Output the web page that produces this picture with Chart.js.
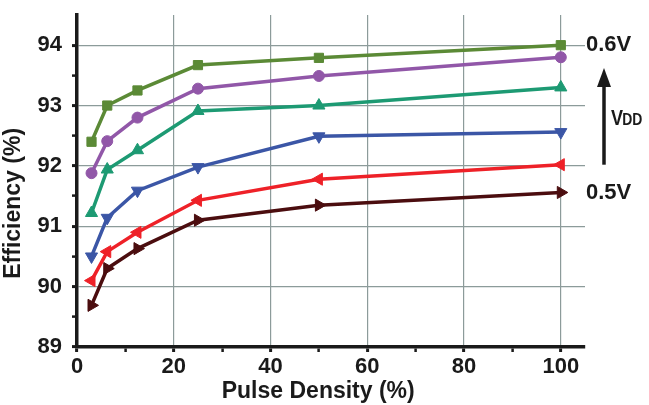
<!DOCTYPE html>
<html>
<head>
<meta charset="utf-8">
<script src="https://cdn.jsdelivr.net/npm/chart.js@4"></script>
<style>
	html, body { margin: 0; padding: 0; background: #fff; }
	#wrap { width: 649px; height: 405px; }
</style>
</head>
<body>
<div id="wrap"><canvas id="chart" width="649" height="405"></canvas></div>
<script>
// pulse density (%) on x, efficiency (%) per supply voltage, 0.6V at top down to 0.5V
const pulseDensity = [3, 6.25, 12.5, 25, 50, 100];
const eff060 = [92.40, 93.00, 93.25, 93.67, 93.79, 94.00];
const eff058 = [91.88, 92.41, 92.80, 93.28, 93.49, 93.80];
const eff056 = [91.22, 91.94, 92.26, 92.91, 93.00, 93.30];
const eff054 = [90.50, 91.14, 91.59, 91.98, 92.49, 92.56];
const eff052 = [90.10, 90.58, 90.90, 91.43, 91.78, 92.02];
const eff050 = [89.69, 90.30, 90.63, 91.10, 91.35, 91.56];
const xTicks = [0, 10, 20, 30, 40, 50, 60, 70, 80, 90, 100];
const yTicks = [89, 89.5, 90, 90.5, 91, 91.5, 92, 92.5, 93, 93.5, 94];
const vddLabels = ['0.6V', '0.5V'];

const FONT = '"Liberation Sans", Arial, sans-serif';
const INK = '#1a1a1a';
const GRID = '#8c9b9a';
const NONE = 'rgba(0,0,0,0)';
const PAD = '\u00a0';

function series(values, color, style, rotation, radius){
	return {
		data: values.map((v, i) => ({x: pulseDensity[i], y: v})),
		borderColor: color,
		backgroundColor: color,
		borderWidth: 3.5,
		pointStyle: style,
		pointRotation: rotation,
		pointRadius: radius,
		pointBorderWidth: 1,
		tension: 0
	};
}

const datasets = [
	series(eff060, '#5b8a36', 'rect', 0, 6.5),
	series(eff058, '#9157a8', 'circle', 0, 5.5),
	series(eff056, '#1d9a73', 'triangle', 0, 7),
	series(eff054, '#3b56a6', 'triangle', 180, 7),
	series(eff052, '#ee2128', 'triangle', 270, 7),
	series(eff050, '#4b0d0f', 'triangle', 90, 7)
];

// right side labels: 0.6V, VDD arrow, 0.5V
const sideLabels = {
	id: 'sideLabels',
	afterDraw(chart){
		const ctx = chart.ctx;
		const y = chart.scales.y;
		const area = chart.chartArea;
		const top = eff060[eff060.length - 1];
		const bottom = eff050[eff050.length - 1];
		ctx.save();
		ctx.fillStyle = INK;
		ctx.textBaseline = 'middle';
		ctx.textAlign = 'left';
		ctx.font = 'bold 22px ' + FONT;
		ctx.fillText(vddLabels[0], area.right + 1, y.getPixelForValue(top));
		ctx.fillText(vddLabels[1], area.right + 1, y.getPixelForValue(bottom));

		// arrow
		const ax = area.right + 19;
		const y0 = y.getPixelForValue(92.02);
		const y1 = y.getPixelForValue(93.62);
		ctx.strokeStyle = INK;
		ctx.lineWidth = 3.5;
		ctx.beginPath();
		ctx.moveTo(ax, y0);
		ctx.lineTo(ax, y1 + 12);
		ctx.stroke();
		ctx.beginPath();
		ctx.moveTo(ax, y1);
		ctx.lineTo(ax - 7, y1 + 19);
		ctx.lineTo(ax + 7, y1 + 19);
		ctx.closePath();
		ctx.fill();

		// VDD, squeezed like the condensed original
		const vy = y.getPixelForValue(92.78);
		ctx.translate(area.right + 26, vy);
		ctx.scale(0.82, 1);
		ctx.font = 'bold 22px ' + FONT;
		ctx.fillText('V', 0, 0);
		const w = ctx.measureText('V').width;
		ctx.font = 'bold 17px ' + FONT;
		ctx.fillText('DD', w - 1, 1.5);
		ctx.restore();
	}
};

new Chart(document.getElementById('chart'), {
	type: 'line',
	data: {datasets: datasets},
	plugins: [sideLabels],
	options: {
		responsive: false,
		animation: false,
		layout: {padding: {top: 15, right: 64, left: 0, bottom: 0}},
		plugins: {
			legend: {display: false},
			tooltip: {enabled: false}
		},
		scales: {
			x: {
				type: 'linear',
				min: 0,
				max: 105,
				afterFit: (scale) => {
					scale.height = 58;
					scale.paddingLeft = 0;
					scale.paddingRight = 0;
				},
				afterBuildTicks: (scale) => { scale.ticks = xTicks.map((v) => ({value: v})); },
				border: {display: true, color: INK, width: 3.5},
				grid: {
					color: (c) => (c.tick && c.tick.value > 0 && c.tick.value % 20 === 0) ? GRID : NONE,
					lineWidth: 1.2,
					drawTicks: true,
					tickLength: 5,
					tickColor: INK,
					tickWidth: (c) => (c.tick && c.tick.value % 20 === 0) ? 3 : 2.5
				},
				ticks: {
					autoSkip: false,
					maxRotation: 0,
					padding: 2,
					color: INK,
					font: {family: FONT, size: 22, weight: 'bold'},
					callback: (v) => (v % 20 === 0) ? String(v) : ''
				},
				title: {
					display: true,
					text: 'Pulse Density (%)' + PAD.repeat(4),
					color: INK,
					padding: {top: 0, bottom: 0},
					font: {family: FONT, size: 23, weight: 'bold'}
				}
			},
			y: {
				min: 89,
				max: 94.5,
				afterFit: (scale) => {
					scale.width = 77;
					scale.paddingTop = 0;
					scale.paddingBottom = 0;
				},
				afterBuildTicks: (scale) => { scale.ticks = yTicks.map((v) => ({value: v})); },
				border: {display: true, color: INK, width: 3.5},
				grid: {
					color: (c) => (c.tick && c.tick.value > 89 && Number.isInteger(c.tick.value)) ? GRID : NONE,
					lineWidth: 1.2,
					drawTicks: true,
					tickLength: 5,
					tickColor: INK,
					tickWidth: (c) => (c.tick && Number.isInteger(c.tick.value)) ? 3 : 2.5
				},
				ticks: {
					autoSkip: false,
					padding: 10,
					color: INK,
					font: {family: FONT, size: 22, weight: 'bold'},
					callback: (v) => Number.isInteger(v) ? String(v) : ''
				},
				title: {
					display: true,
					text: 'Efficiency (%)' + PAD.repeat(7),
					color: INK,
					padding: {top: 0, bottom: 2},
					font: {family: FONT, size: 23, weight: 'bold'}
				}
			}
		}
	}
});
</script>
</body>
</html>
